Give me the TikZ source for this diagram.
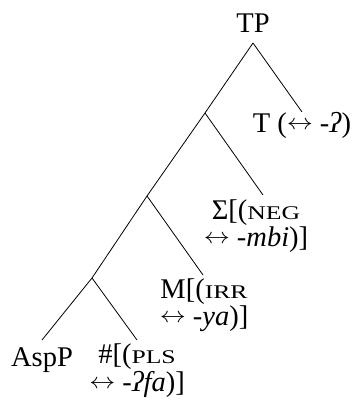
\documentclass[tikz,border=0pt]{standalone}
\usepackage{fontspec}
\setmainfont{Liberation Serif}
\newcommand{\smc}[1]{\scalebox{0.9}[0.68]{#1}}
\newcommand{\lra}{\raisebox{3pt}{\scalebox{2.6}[2.2]{\normalsize$\leftrightarrow$}}}
\begin{document}
\begin{tikzpicture}[x=1pt,y=-1pt,
  lbl/.style={anchor=base,inner sep=0pt,align=center,font=\fontsize{28.5}{25}\selectfont},
  br/.style={line width=0.8pt}]
\useasboundingbox (0,0) rectangle (353,404);
\node[lbl] (tp) at (253,33) {TP};
\coordinate (r) at (253,43);
\coordinate (n1) at (205,113);
\coordinate (n2) at (147,196);
\coordinate (n3) at (92,278);
\coordinate (eT) at (302,112);
\coordinate (eS) at (263,195);
\coordinate (eM) at (203,275);
\coordinate (eA) at (42,340);
\coordinate (eH) at (137,340);
\node[lbl] (t) at (302,132) {T (\lra{} -\textit{ʔ})};
\node[lbl] (s) at (256,246) {Σ[(\smc{NEG}\\\lra{} -\textit{mbi})]};
\node[lbl] (m) at (204,325) {M[(\smc{IRR}\\\lra{} -\textit{ya})]};
\node[lbl] (asp) at (42,366) {AspP};
\node[lbl] (h) at (137,391) {\#[(\smc{PLS}\\\lra{} -\textit{ʔfa})]};
\draw[br] (r) -- (n1);
\draw[br] (r) -- (eT);
\draw[br] (n1) -- (n2);
\draw[br] (n1) -- (eS);
\draw[br] (n2) -- (n3);
\draw[br] (n2) -- (eM);
\draw[br] (n3) -- (eA);
\draw[br] (n3) -- (eH);
\end{tikzpicture}
\end{document}
